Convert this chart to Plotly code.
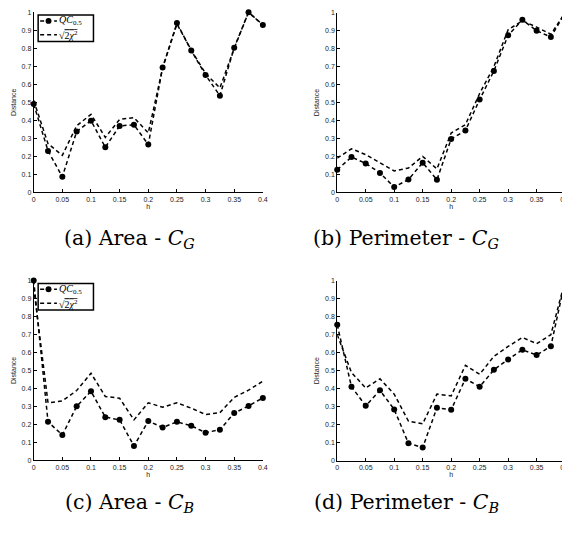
import plotly.graph_objects as go

h = [0, 0.025, 0.05, 0.075, 0.1, 0.125, 0.15, 0.175, 0.2, 0.225, 0.25, 0.275, 0.3, 0.325, 0.35, 0.375, 0.4]

area_cg_qc = [0.49, 0.23, 0.086, 0.338, 0.398, 0.25, 0.369, 0.375, 0.265, 0.693, 0.94, 0.788, 0.651, 0.537, 0.803, 1.0, 0.929]
area_cg_chi = [0.51, 0.27, 0.205, 0.37, 0.433, 0.305, 0.405, 0.415, 0.33, 0.69, 0.935, 0.79, 0.66, 0.58, 0.80, 1.0, 0.93]

per_cg_qc = [0.126, 0.196, 0.161, 0.108, 0.029, 0.071, 0.165, 0.07, 0.297, 0.344, 0.516, 0.676, 0.874, 0.96, 0.9, 0.864, 1.0]
per_cg_chi = [0.19, 0.242, 0.21, 0.165, 0.119, 0.135, 0.2, 0.13, 0.33, 0.377, 0.55, 0.70, 0.905, 0.955, 0.92, 0.88, 1.0]

area_cb_qc = [1.0, 0.214, 0.141, 0.30, 0.384, 0.24, 0.225, 0.08, 0.218, 0.183, 0.214, 0.192, 0.154, 0.17, 0.263, 0.302, 0.347]
area_cb_chi = [0.96, 0.32, 0.33, 0.388, 0.484, 0.355, 0.345, 0.225, 0.32, 0.295, 0.32, 0.29, 0.255, 0.265, 0.35, 0.39, 0.44]

per_cb_qc = [0.755, 0.411, 0.305, 0.391, 0.285, 0.097, 0.073, 0.294, 0.283, 0.455, 0.411, 0.505, 0.563, 0.616, 0.587, 0.636, 1.0]
per_cb_chi = [0.70, 0.49, 0.404, 0.455, 0.37, 0.22, 0.205, 0.37, 0.36, 0.53, 0.48, 0.58, 0.635, 0.685, 0.65, 0.70, 1.0]

x_tickvals = [0, 0.05, 0.1, 0.15, 0.2, 0.25, 0.3, 0.35, 0.4]
x_ticktext = ["0", "0.05", "0.1", "0.15", "0.2", "0.25", "0.3", "0.35", "0.4"]
y_tickvals = [0, 0.1, 0.2, 0.3, 0.4, 0.5, 0.6, 0.7, 0.8, 0.9, 1.0]
y_ticktext = ["0", "0.1", "0.2", "0.3", "0.4", "0.5", "0.6", "0.7", "0.8", "0.9", "1"]

captions = ["(a) Area - <i>C</i><sub><i>G</i></sub>", "(b) Perimeter - <i>C</i><sub><i>G</i></sub>",
            "(c) Area - <i>C</i><sub><i>B</i></sub>", "(d) Perimeter - <i>C</i><sub><i>B</i></sub>"]

qc_name = "<i>QC</i><sub>0.5</sub>"
chi_name = "√<span style='text-decoration:overline'>2<i>χ</i><sup>2</sup></span>"

W, H = 570, 533
OFF = 8  # page body margin offset


def fx(p):
    return (p - OFF) / W


def fy(p):
    return 1 - (p - OFF) / H


panels = [
    (area_cg_qc, area_cg_chi, (32, 264), (8.3, 190.7), 0),
    (per_cg_qc, per_cg_chi, (339.3, 570), (8.7, 190.7), None),
    (area_cb_qc, area_cb_chi, (32, 264), (280, 462.3), 272),
    (per_cb_qc, per_cb_chi, (339.3, 570), (280.3, 462.7), None),
]

fig = go.Figure()
line_style = dict(color="black", width=1.5, dash="4px,3px")
tickfont = dict(family="Liberation Sans, Arial, sans-serif", size=7, color="#222222")
legfont = dict(family="Liberation Serif, serif", size=10, color="black")

for i, (qc, chi, xd, yd, leg) in enumerate(panels):
    n = "" if i == 0 else str(i + 1)
    xa, ya = "x" + n, "y" + n
    fig.add_trace(go.Scatter(x=h, y=qc, mode="lines+markers", name=qc_name,
                             line=line_style, marker=dict(color="black", size=6),
                             xaxis=xa, yaxis=ya, cliponaxis=False, showlegend=False))
    fig.add_trace(go.Scatter(x=h, y=chi, mode="lines", name=chi_name,
                             line=line_style, xaxis=xa, yaxis=ya, cliponaxis=False,
                             showlegend=False))
    axis_common = dict(showline=True, linecolor="black", linewidth=1, ticks="inside",
                       ticklen=3, tickcolor="black", tickwidth=1, showgrid=False,
                       zeroline=False, tickfont=tickfont)
    fig.layout["xaxis" + n] = dict(domain=[fx(xd[0]), fx(xd[1])], range=[0, 0.4], anchor=ya,
                                   tickvals=x_tickvals, ticktext=x_ticktext,
                                   title=dict(text="h", font=tickfont, standoff=1),
                                   **axis_common)
    fig.layout["yaxis" + n] = dict(domain=[fy(yd[1]), fy(yd[0])], range=[0, 1], anchor=xa,
                                   tickvals=y_tickvals, ticktext=y_ticktext,
                                   title=dict(text="Distance", font=tickfont, standoff=4),
                                   **axis_common)

    if leg is not None:
        # legend box (decoration, drawn in paper space)
        dy = leg
        fig.add_shape(type="rect", xref="paper", yref="paper",
                      x0=fx(36.5), x1=fx(92.5), y0=fy(38 + dy), y1=fy(11 + dy),
                      line=dict(color="black", width=1.5), fillcolor="white", layer="above")
        for ry in (17, 31):
            fig.add_shape(type="line", xref="paper", yref="paper",
                          x0=fx(38.5), x1=fx(55.5), y0=fy(ry + dy), y1=fy(ry + dy),
                          line=dict(color="black", width=1.5, dash="4px,3px"), layer="above")
        fig.add_shape(type="circle", xref="paper", yref="paper",
                      x0=fx(44), x1=fx(50), y0=fy(20 + dy), y1=fy(14 + dy),
                      line=dict(color="black", width=0), fillcolor="black", layer="above")
        fig.add_annotation(text=qc_name, x=fx(57), y=fy(17 + dy), xref="paper", yref="paper",
                           showarrow=False, xanchor="left", yanchor="middle", font=legfont,
                           borderpad=0)
        fig.add_annotation(text=chi_name, x=fx(57), y=fy(31.5 + dy), xref="paper", yref="paper",
                           showarrow=False, xanchor="left", yanchor="middle", font=legfont,
                           borderpad=0)

fig.update_layout(
    width=W, height=H, paper_bgcolor="white", plot_bgcolor="white",
    margin=dict(l=0, r=0, t=0, b=0), showlegend=False,
)

cap_pos = [(129, 238), (409, 238), (129, 506), (409, 506)]
for txt, (cx, cy) in zip(captions, cap_pos):
    fig.add_annotation(text=txt, x=fx(cx), y=fy(cy), xref="paper", yref="paper",
                       showarrow=False, xanchor="center", yanchor="middle",
                       font=dict(family="DejaVu Serif, Liberation Serif, serif", size=20.5, color="black"))

fig.write_html("out.html")
